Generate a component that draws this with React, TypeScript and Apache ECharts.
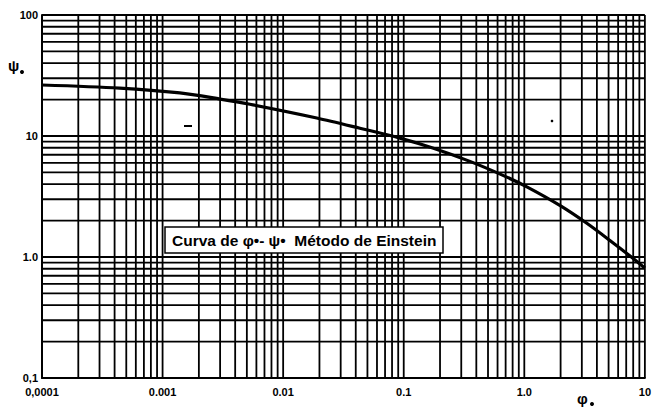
import React, { useEffect, useRef } from "react";
import * as echarts from "echarts";

// Curve phi* - psi* (Einstein method)
const phiValues = [0.0001, 0.00044, 0.00139, 0.003, 0.0053, 0.019, 0.0433, 0.093, 0.174, 0.354, 0.665, 1.05, 1.97, 3.3, 5.13, 8.59, 10];
const psiValues = [26.4, 24.9, 22.7, 20.2, 18.3, 14.1, 11.6, 9.6, 7.96, 6.17, 4.73, 3.8, 2.67, 1.9, 1.37, 0.92, 0.81];

// log-paper grid
const xMin = 0.0001;
const xMax = 10;
const yMin = 0.1;
const yMax = 100;
const xDecades = [0.0001, 0.001, 0.01, 0.1, 1];
const yDecades = [0.1, 1, 10];
const multipliers = [1, 2, 3, 4, 5, 6, 7, 8, 9];

const xTickLabels: Record<string, string> = {
  "0.0001": "0,0001",
  "0.001": "0.001",
  "0.01": "0.01",
  "0.1": "0.1",
  "1": "1.0",
  "10": "10",
};
const yTickLabels: Record<string, string> = {
  "0.1": "0,1",
  "1": "1.0",
  "10": "10",
  "100": "100",
};

const boxText = "Curva de φ•- ψ•  Método de Einstein";

export default function App() {
  const ref = useRef<HTMLDivElement>(null);
  useEffect(() => {
    document.body.style.margin = "0";
    if (!ref.current) return;
    const chart = echarts.init(ref.current, undefined, { renderer: "svg" });

    const xGrid: number[] = [];
    xDecades.forEach((d) => multipliers.forEach((m) => xGrid.push(+(d * m).toPrecision(3))));
    xGrid.push(xMax);
    const yGrid: number[] = [];
    yDecades.forEach((d) => multipliers.forEach((m) => yGrid.push(+(d * m).toPrecision(3))));
    yGrid.push(yMax);

    const gridStyle = { color: "#000", width: 1.8 };
    const gridSeries: any[] = [
      ...xGrid.map((v) => ({
        type: "line",
        data: [[v, yMin], [v, yMax]],
        symbol: "none",
        silent: true,
        z: 1,
        lineStyle: gridStyle,
      })),
      ...yGrid.map((v) => ({
        type: "line",
        data: [[xMin, v], [xMax, v]],
        symbol: "none",
        silent: true,
        z: 1,
        lineStyle: gridStyle,
      })),
    ];

    const font = "'Liberation Sans', Arial, sans-serif";
    chart.setOption({
      animation: false,
      backgroundColor: "#fff",
      grid: { left: 42, top: 15, right: 9, bottom: 30, containLabel: false },
      xAxis: {
        type: "log",
        logBase: 10,
        min: xMin,
        max: xMax,
        axisLine: { show: true, lineStyle: { color: "#000", width: 2 } },
        axisTick: { show: false },
        splitLine: { show: false },
        axisLabel: {
          color: "#000",
          fontFamily: font,
          fontWeight: "bold",
          fontSize: 11,
          margin: 8,
          formatter: (v: number) => xTickLabels[String(+v.toPrecision(3))] ?? "",
        },
      },
      yAxis: {
        type: "log",
        logBase: 10,
        min: yMin,
        max: yMax,
        axisLine: { show: true, lineStyle: { color: "#000", width: 2 } },
        axisTick: { show: false },
        splitLine: { show: false },
        axisLabel: {
          color: "#000",
          fontFamily: font,
          fontWeight: "bold",
          fontSize: 11,
          margin: 4,
          formatter: (v: number) => yTickLabels[String(+v.toPrecision(3))] ?? "",
        },
      },
      series: [
        ...gridSeries,
        {
          type: "line",
          data: phiValues.map((x, i) => [x, psiValues[i]]),
          smooth: 0.3,
          showSymbol: false,
          symbol: "none",
          silent: true,
          z: 5,
          lineStyle: { color: "#000", width: 3.2 },
        },
      ],
      graphic: [
        {
          type: "rect",
          z: 100,
          shape: { x: 165, y: 227, width: 278, height: 26 },
          style: { fill: "#fff", stroke: "#000", lineWidth: 1.5 },
        },
        {
          type: "text",
          z: 101,
          x: 172,
          y: 240,
          style: {
            text: boxText,
            font: `bold 15.5px ${font}`,
            fill: "#000",
            verticalAlign: "middle",
          },
        },
        {
          type: "text",
          z: 101,
          x: 8,
          y: 58,
          style: { text: "ψ", font: `bold 15px ${font}`, fill: "#000" },
        },
        { type: "circle", z: 101, shape: { cx: 22, cy: 72, r: 2 }, style: { fill: "#000" } },
        {
          type: "text",
          z: 101,
          x: 577,
          y: 391,
          style: { text: "φ", font: `bold 15px ${font}`, fill: "#000" },
        },
        { type: "circle", z: 101, shape: { cx: 592, cy: 404, r: 2 }, style: { fill: "#000" } },
        { type: "rect", z: 101, shape: { x: 184, y: 125, width: 8, height: 2 }, style: { fill: "#000" } },
        { type: "circle", z: 101, shape: { cx: 552, cy: 121, r: 1.3 }, style: { fill: "#000" } },
      ],
    });
    return () => chart.dispose();
  }, []);
  return <div ref={ref} style={{ width: 654, height: 408 }} />;
}
